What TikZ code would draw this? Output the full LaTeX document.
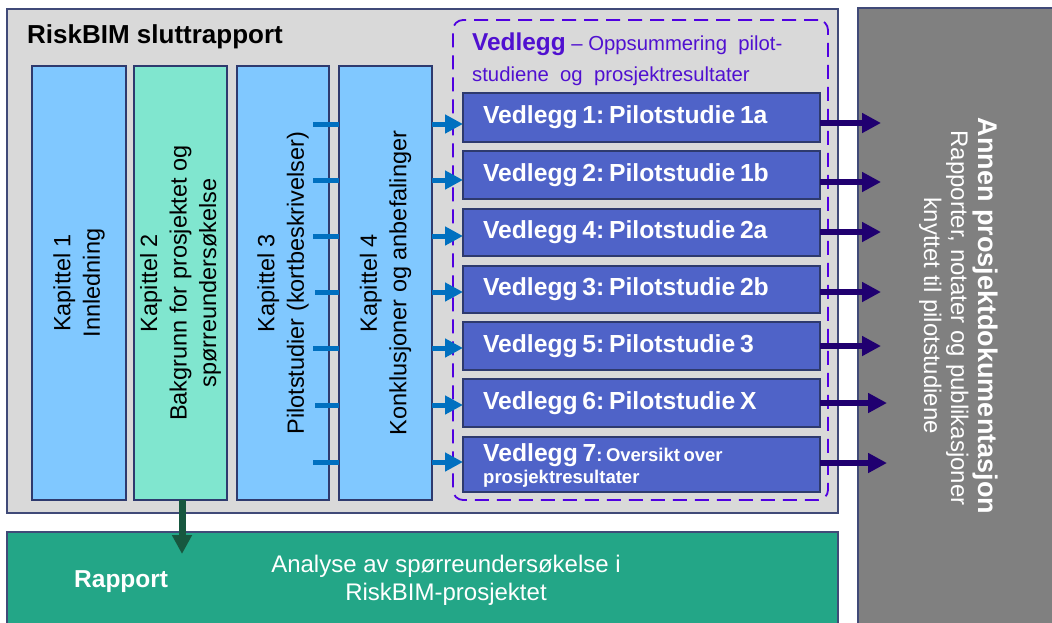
\documentclass[tikz,border=0pt]{standalone}
\usepackage{fontspec}
\setmainfont{Liberation Sans}
\usetikzlibrary{arrows.meta,calc}
\definecolor{graybg}{HTML}{D9D9D9}
\definecolor{edgec}{HTML}{404A78}
\definecolor{kblue}{HTML}{80C8FF}
\definecolor{kgreen}{HTML}{80E6CF}
\definecolor{vfill}{HTML}{4F63C8}
\definecolor{vedge}{HTML}{2E3A6E}
\definecolor{dashc}{HTML}{5000E0}
\definecolor{hdrc}{HTML}{5010D0}
\definecolor{arrblue}{HTML}{0070C0}
\definecolor{navyc}{HTML}{200070}
\definecolor{dgray}{HTML}{808080}
\definecolor{greenc}{HTML}{23A687}
\definecolor{dgreen}{HTML}{17573F}
\newcommand{\myfs}[2]{\fontsize{#1}{#2}\selectfont}
\newcommand{\tightsp}{\spaceskip=0.19em plus 0.05em\relax\xspaceskip=0.19em plus 0.05em\relax}
\begin{document}
\begin{tikzpicture}[x=1pt,y=-1pt,
  box/.style={draw=edgec, line width=1.2pt, inner sep=0pt, outer sep=0pt},
  kapbox/.style={box, draw=vedge, minimum height=434pt},
  coltext/.style={rotate=90, align=center, font=\myfs{23.5}{29.5}},
  vbox/.style={box, draw=vedge, fill=vfill, text=white, minimum width=357pt,
    inner xsep=20pt, inner ysep=0pt, text width=317pt, align=left,
    font=\myfs{24.7}{28}\bfseries},
  barrow/.style={draw=arrblue, line width=5pt, -{Triangle[length=18pt,width=18pt]}},
  stub/.style={draw=arrblue, line width=5pt},
  narrow/.style={draw=navyc, line width=5.5pt, -{Triangle[length=19pt,width=19pt]}},
  garrow/.style={draw=dgreen, line width=7pt, -{Triangle[length=19pt,width=19pt]}},
  righttext/.style={rotate=-90, anchor=base, text=white, inner sep=0pt}
]
\useasboundingbox (0,0) rectangle (1052,622);
% main report box
\node[box, fill=graybg, minimum width=831pt, minimum height=504pt] (main) at (422.5,261) {};
\node[anchor=base west, inner sep=0pt, font=\myfs{26}{30}\bfseries] (title) at (27,43) {RiskBIM sluttrapport};
% chapters
\node[kapbox, fill=kblue, minimum width=94pt] (k1) at (79,283) {};
\node[kapbox, fill=kgreen, minimum width=93pt] (k2) at (180.5,283) {};
\node[kapbox, fill=kblue, minimum width=92pt] (k3) at (283,283) {};
\node[kapbox, fill=kblue, minimum width=93pt] (k4) at (385.5,283) {};
\node[coltext] (t1) at (k1) {Kapittel 1\\Innledning};
\node[coltext] (t2) at (k2) {Kapittel 2\\Bakgrunn for prosjektet og\\spørreundersøkelse};
\node[coltext] (t3) at (k3) {Kapittel 3\\Pilotstudier (kortbeskrivelser)};
\node[coltext] (t4) at (k4) {Kapittel 4\\Konklusjoner og anbefalinger};
% appendix group
\node[draw=dashc, line width=1.8pt, dash pattern=on 14pt off 8pt, rounded corners=10pt,
  minimum width=375pt, minimum height=480pt, inner sep=0pt] (vgroup) at (640.5,260) {};
\node[anchor=base west, inner sep=0pt, text=hdrc] (vh1) at (472,50)
  {{\myfs{24.4}{28}\bfseries Vedlegg}\myfs{20.3}{24} – Oppsummering\ \ pilot-};
\node[anchor=base west, inner sep=0pt, text=hdrc, font=\myfs{20.3}{24}] (vh2) at (472,81)
  {studiene\ \ og\ \ prosjektresultater};
\node[vbox, minimum height=49pt] (p1) at (641.5,117.5) {\tightsp Vedlegg 1: Pilotstudie 1a};
\node[vbox, minimum height=48pt] (p2) at (641.5,175) {\tightsp Vedlegg 2: Pilotstudie 1b};
\node[vbox, minimum height=47pt] (p3) at (641.5,232.5) {\tightsp Vedlegg 4: Pilotstudie 2a};
\node[vbox, minimum height=47pt] (p4) at (641.5,289.5) {\tightsp Vedlegg 3: Pilotstudie 2b};
\node[vbox, minimum height=48pt] (p5) at (641.5,346) {\tightsp Vedlegg 5: Pilotstudie 3};
\node[vbox, minimum height=48pt] (p6) at (641.5,403) {\tightsp Vedlegg 6: Pilotstudie X};
\node[vbox, minimum height=55pt] (p7) at (641.5,464.5) {};
\node[anchor=base west, inner sep=0pt, text=white, font=\bfseries\tightsp] (p7a) at (483,461)
  {{\myfs{24.7}{28}\tightsp Vedlegg 7}\myfs{18.5}{22}\tightsp: Oversikt over};
\node[anchor=base west, inner sep=0pt, text=white, font=\myfs{18.5}{22}\bfseries] (p7b) at (483,483)
  {prosjektresultater};
% blue arrows
\foreach \i/\y/\s in {1/124/-16,2/180/-16,3/236/-16,4/292/-14,5/348/-16,6/405/-14,7/462/-16}{
  \draw[stub] ($(k3.east |- 0,\y)+(\s,0)$) -- (k4.west |- 0,\y);
  \draw[barrow] (k4.east |- 0,\y) -- (p\i.west |- 0,\y);
}
% bottom report
\node[box, fill=greenc, minimum width=831pt, minimum height=100pt] (rapp) at (422.5,582) {};
\draw[garrow] ($(k2.south)+(1.5,0)$) -- ($(k2.south)+(1.5,54)$);
\node[anchor=base west, inner sep=0pt, text=white, font=\myfs{24.5}{28}\bfseries] (rl) at (74,587) {Rapport};
\node[align=center, inner sep=0pt, text=white, font=\myfs{24}{28}] (rt) at (446,580)
  {Analyse av spørreundersøkelse i\\RiskBIM-prosjektet};
% other documentation
\node[box, fill=dgray, minimum width=200pt, minimum height=620pt, anchor=north west] (doc) at (858,8) {};
\foreach \i/\y/\xe in {1/123/881,2/182/881,3/232/881,4/292/881,5/346/881,6/403/887,7/463/887}{
  \draw[narrow] (p\i.east |- 0,\y) -- (\xe,\y);
}
\node[righttext, font=\myfs{27}{30}\bfseries] (d1) at (978,316) {Annen prosjektdokumentasjon};
\node[righttext, font=\myfs{24}{28}] (d2) at (951,318) {Rapporter, notater og publikasjoner};
\node[righttext, font=\myfs{24}{28}] (d3) at (924,316) {knyttet til pilotstudiene};
\end{tikzpicture}
\end{document}
